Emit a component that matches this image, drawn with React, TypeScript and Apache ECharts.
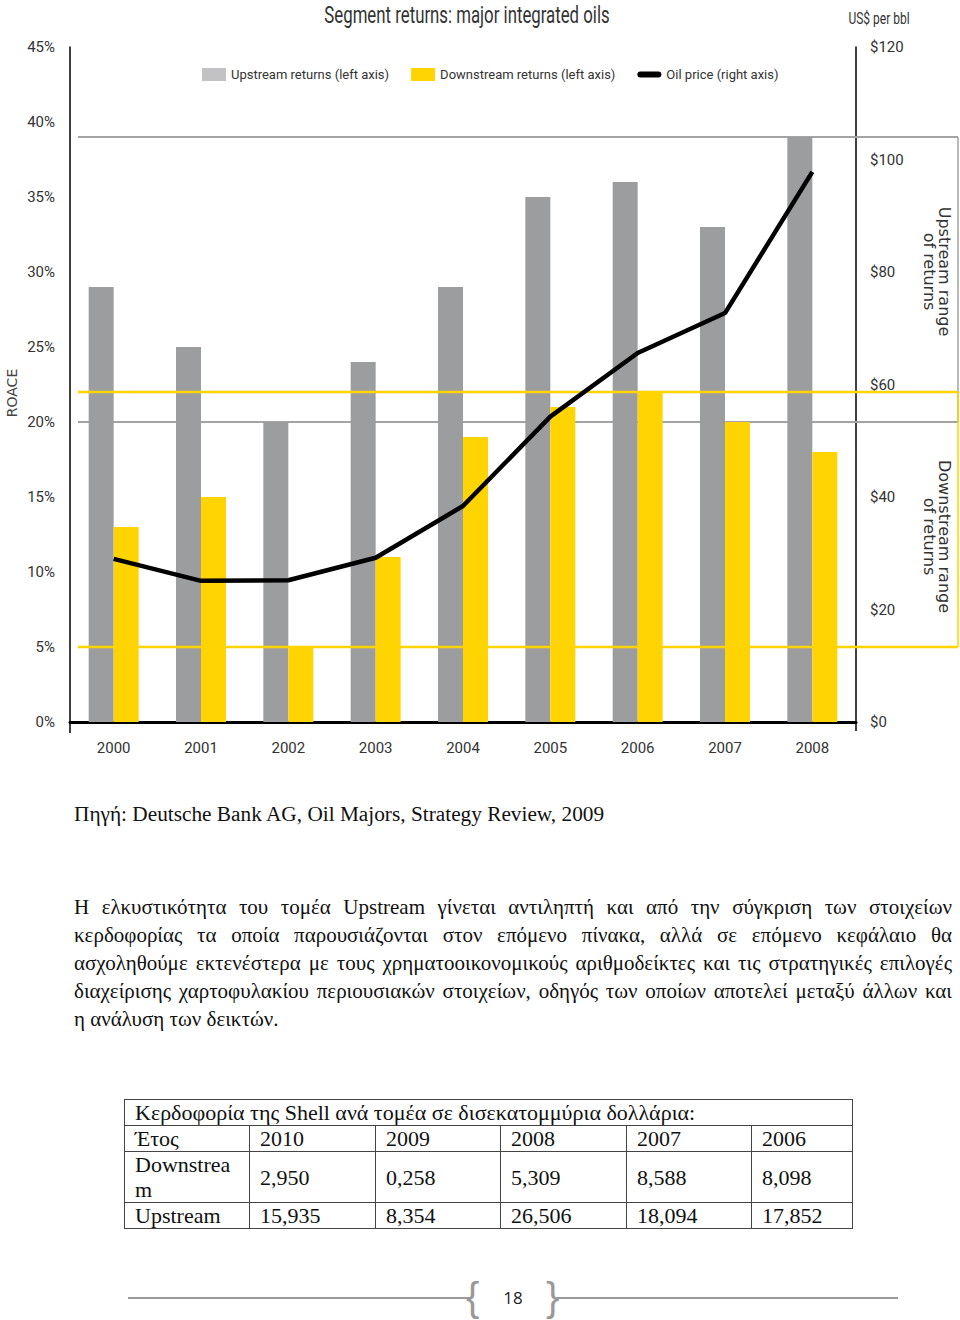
import React, { useEffect, useRef } from "react";
import * as echarts from "echarts";

const years = ["2000", "2001", "2002", "2003", "2004", "2005", "2006", "2007", "2008"];
const upstreamReturns = [29, 25, 20, 24, 29, 35, 36, 33, 39];
const downstreamReturns = [13, 15, 5, 11, 19, 21, 22, 20, 18];
const oilPrice = [29.0, 25.1, 25.2, 29.2, 38.4, 54.3, 65.6, 72.7, 97.8];
const upstreamRange = [20, 39];
const downstreamRange = [5, 22];

const seriesNames = ["Upstream returns (left axis)", "Downstream returns (left axis)", "Oil price (right axis)"];

const tableYears = ["2010", "2009", "2008", "2007", "2006"];
const tableDownstream = ["2,950", "0,258", "5,309", "8,588", "8,098"];
const tableUpstream = ["15,935", "8,354", "26,506", "18,094", "17,852"];

const paragraphLines = [
  "Η ελκυστικότητα του τομέα Upstream γίνεται αντιληπτή και από την σύγκριση των στοιχείων",
  "κερδοφορίας τα οποία παρουσιάζονται στον επόμενο πίνακα, αλλά σε επόμενο κεφάλαιο θα",
  "ασχοληθούμε εκτενέστερα με τους χρηματοοικονομικούς αριθμοδείκτες και τις στρατηγικές επιλογές",
  "διαχείρισης χαρτοφυλακίου περιουσιακών στοιχείων, οδηγός των οποίων αποτελεί μεταξύ άλλων και",
  "η ανάλυση των δεικτών.",
];

const COND = "Roboto, 'Liberation Sans', sans-serif";
const SERIF = "'Liberation Serif', 'DejaVu Serif', serif";
const VERD = "'DejaVu Sans', sans-serif";

function Chart() {
  const ref = useRef<HTMLDivElement>(null);
  useEffect(() => {
    if (!ref.current) return;
    const chart = echarts.init(ref.current, null, { renderer: "svg" });
    const option: any = {
      animation: false,
      backgroundColor: "#ffffff",
      textStyle: { fontFamily: COND },
      legend: {
        left: 197,
        top: 63,
        itemWidth: 24,
        itemHeight: 13,
        itemGap: 22,
        textStyle: { fontFamily: COND, fontSize: 13, color: "#333" },
        data: [
          { name: seriesNames[0], icon: "rect", itemStyle: { color: "#c2c2c4" } },
          { name: seriesNames[1], icon: "rect" },
          { name: seriesNames[2], icon: "path://M3,0 L21,0 A3,3 0 0 1 21,6 L3,6 A3,3 0 0 1 3,0 Z" },
        ],
      },
      grid: { left: 70, right: 104, top: 47, bottom: 58, containLabel: false },
      xAxis: {
        type: "category",
        data: years,
        axisLine: { show: true, lineStyle: { color: "#000", width: 3 } },
        axisTick: { show: false },
        axisLabel: { margin: 18, fontSize: 15, color: "#333", fontFamily: COND },
      },
      yAxis: [
        {
          type: "value",
          min: 0,
          max: 45,
          interval: 5,
          position: "left",
          axisLine: { show: true, lineStyle: { color: "#000", width: 1.5 } },
          axisTick: { show: false },
          splitLine: { show: false },
          axisLabel: { formatter: "{value}%", margin: 15, fontSize: 15, color: "#333", fontFamily: COND },
        },
        {
          type: "value",
          min: 0,
          max: 120,
          interval: 20,
          position: "right",
          axisLine: { show: true, lineStyle: { color: "#000", width: 1.5 } },
          axisTick: { show: false },
          splitLine: { show: false },
          axisLabel: { formatter: (v: number) => "$" + v, margin: 14, fontSize: 15, color: "#333", fontFamily: COND },
        },
      ],
      series: [
        {
          name: seriesNames[0],
          type: "bar",
          data: upstreamReturns,
          barWidth: 25,
          barGap: "0%",
          itemStyle: { color: "#9c9d9f" },
          z: 2,
        },
        {
          name: seriesNames[1],
          type: "bar",
          data: downstreamReturns,
          barWidth: 25,
          barGap: "0%",
          itemStyle: { color: "#ffd400" },
          z: 2,
        },
        {
          name: seriesNames[2],
          type: "line",
          yAxisIndex: 1,
          data: oilPrice,
          symbol: "none",
          lineStyle: { color: "#000", width: 4.5 },
          itemStyle: { color: "#000" },
          z: 10,
        },
      ],
    };
    chart.setOption(option);

    const yp = (v: number) => chart.convertToPixel({ yAxisIndex: 0 }, v) as number;
    const y0 = yp(0);
    const xL = 78;
    const xR = 958;
    const gray = "#a3a3a3";
    const yellow = "#ffd400";
    const graphic: any[] = [
      { type: "line", z: 1, shape: { x1: xL, y1: yp(upstreamRange[1]), x2: xR, y2: yp(upstreamRange[1]) }, style: { stroke: gray, lineWidth: 2 } },
      { type: "line", z: 1, shape: { x1: xL, y1: yp(upstreamRange[0]), x2: xR, y2: yp(upstreamRange[0]) }, style: { stroke: gray, lineWidth: 2 } },
      { type: "line", z: 1, shape: { x1: xR, y1: yp(upstreamRange[1]), x2: xR, y2: yp(upstreamRange[0]) }, style: { stroke: gray, lineWidth: 1.5 } },
      { type: "line", z: 3, shape: { x1: xL, y1: yp(downstreamRange[1]), x2: xR, y2: yp(downstreamRange[1]) }, style: { stroke: yellow, lineWidth: 2.5 } },
      { type: "line", z: 3, shape: { x1: xL, y1: yp(downstreamRange[0]), x2: xR, y2: yp(downstreamRange[0]) }, style: { stroke: yellow, lineWidth: 2.5 } },
      { type: "line", z: 3, shape: { x1: xR, y1: yp(downstreamRange[1]), x2: xR, y2: yp(downstreamRange[0]) }, style: { stroke: yellow, lineWidth: 1.5 } },
      { type: "line", z: 3, shape: { x1: 70, y1: y0, x2: 70, y2: y0 + 11 }, style: { stroke: "#000", lineWidth: 1.5 } },
      { type: "line", z: 3, shape: { x1: 856, y1: y0, x2: 856, y2: y0 + 9 }, style: { stroke: "#000", lineWidth: 1.5 } },
      {
        type: "text",
        x: 467,
        y: 15,
        scaleX: 0.7,
        z: 5,
        style: { text: "Segment returns: major integrated oils", fontFamily: COND, fontSize: 24, fill: "#333", align: "center", verticalAlign: "middle" },
      },
      {
        type: "text",
        x: 879,
        y: 18,
        scaleX: 0.75,
        z: 5,
        style: { text: "US$ per bbl", fontFamily: COND, fontSize: 16, fill: "#333", align: "center", verticalAlign: "middle" },
      },
      {
        type: "text",
        x: 12,
        y: 393,
        rotation: Math.PI / 2,
        z: 5,
        style: { text: "ROACE", fontFamily: VERD, fontSize: 14, fill: "#444", align: "center", verticalAlign: "middle" },
      },
      {
        type: "text",
        x: 937,
        y: (yp(upstreamRange[0]) + yp(upstreamRange[1])) / 2 - 8,
        rotation: -Math.PI / 2,
        z: 5,
        style: {
          text: "Upstream range\nof returns",
          fontFamily: VERD,
          fontSize: 16,
          lineHeight: 15,
          fill: "#333",
          align: "center",
          verticalAlign: "middle",
        },
      },
      {
        type: "text",
        x: 937,
        y: (yp(downstreamRange[0]) + yp(downstreamRange[1])) / 2 + 17,
        rotation: -Math.PI / 2,
        z: 5,
        style: {
          text: "Downstream range\nof returns",
          fontFamily: VERD,
          fontSize: 16,
          lineHeight: 15,
          fill: "#333",
          align: "center",
          verticalAlign: "middle",
        },
      },
    ];
    chart.setOption({ graphic });
    return () => chart.dispose();
  }, []);
  return <div ref={ref} style={{ position: "absolute", left: 0, top: 0, width: 960, height: 780 }} />;
}

const cellStyle: React.CSSProperties = {
  border: "1.5px solid #444",
  padding: "0 8px 0 10px",
  verticalAlign: "middle",
  textAlign: "left",
  fontFamily: SERIF,
  fontSize: 22,
  lineHeight: "25px",
  color: "#111",
  whiteSpace: "nowrap",
  overflow: "hidden",
};

export default function App() {
  const colWidths = [125, 126, 125, 126, 125, 101];
  return (
    <div style={{ position: "absolute", left: 0, top: 0, width: 960, height: 1320, background: "#fff", overflow: "hidden" }}>
      <Chart />
      <div style={{ position: "absolute", left: 74, top: 800, fontFamily: SERIF, fontSize: 21.3, lineHeight: "28px", color: "#111", whiteSpace: "nowrap" }}>
        Πηγή: Deutsche Bank AG, Oil Majors, Strategy Review, 2009
      </div>
      <div style={{ position: "absolute", left: 74, top: 893, width: 878, fontFamily: SERIF, fontSize: 21, lineHeight: "28px", color: "#111" }}>
        {paragraphLines.map((line, i) => (
          <div
            key={i}
            style={{
              textAlign: i < paragraphLines.length - 1 ? "justify" : "left",
              textAlignLast: i < paragraphLines.length - 1 ? "justify" : "left",
              whiteSpace: "nowrap",
            } as React.CSSProperties}
          >
            {line}
          </div>
        ))}
      </div>
      <table
        style={{
          position: "absolute",
          left: 124,
          top: 1099,
          width: 728,
          borderCollapse: "collapse",
          tableLayout: "fixed",
        }}
      >
        <colgroup>
          {colWidths.map((w, i) => (
            <col key={i} style={{ width: w }} />
          ))}
        </colgroup>
        <tbody>
          <tr style={{ height: 26 }}>
            <td colSpan={6} style={cellStyle}>Κερδοφορία της Shell ανά τομέα σε δισεκατομμύρια δολλάρια:</td>
          </tr>
          <tr style={{ height: 25 }}>
            <td style={cellStyle}>Έτος</td>
            {tableYears.map((y) => (
              <td key={y} style={cellStyle}>{y}</td>
            ))}
          </tr>
          <tr style={{ height: 50 }}>
            <td style={{ ...cellStyle, whiteSpace: "normal", wordBreak: "break-all" }}>Downstream</td>
            {tableDownstream.map((v, i) => (
              <td key={i} style={cellStyle}>{v}</td>
            ))}
          </tr>
          <tr style={{ height: 25 }}>
            <td style={cellStyle}>Upstream</td>
            {tableUpstream.map((v, i) => (
              <td key={i} style={cellStyle}>{v}</td>
            ))}
          </tr>
        </tbody>
      </table>
      <div style={{ position: "absolute", left: 128, top: 1297, width: 343, height: 2, background: "#999" }} />
      <div style={{ position: "absolute", left: 556, top: 1297, width: 342, height: 2, background: "#999" }} />
      <div style={{ position: "absolute", left: 466, top: 1274, fontFamily: "'Liberation Sans', sans-serif", fontSize: 40, lineHeight: "46px", color: "#999" }}>{"{"}</div>
      <div style={{ position: "absolute", left: 546, top: 1274, fontFamily: "'Liberation Sans', sans-serif", fontSize: 40, lineHeight: "46px", color: "#999" }}>{"}"}</div>
      <div style={{ position: "absolute", left: 493, top: 1286, width: 40, textAlign: "center", fontFamily: "'Open Sans', 'Liberation Sans', sans-serif", fontSize: 17, lineHeight: "24px", color: "#222" }}>18</div>
    </div>
  );
}
